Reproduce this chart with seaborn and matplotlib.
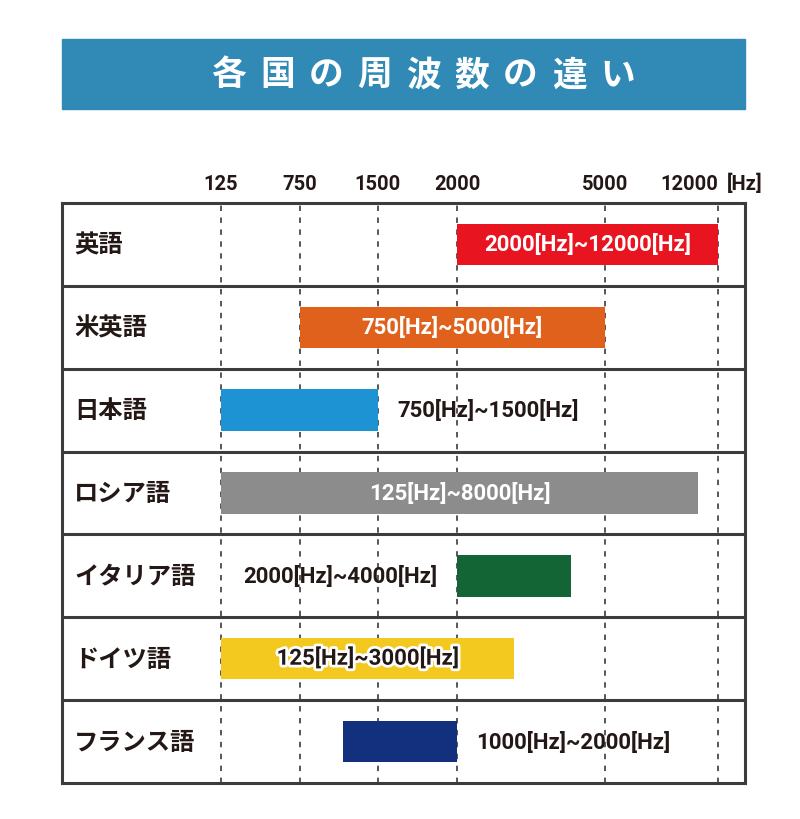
import numpy as np
import pandas as pd
import seaborn as sns
import matplotlib.pyplot as plt
from matplotlib.patches import Rectangle
import matplotlib.patheffects as pe

languages = ['英語', '米英語', '日本語', 'ロシア語', 'イタリア語', 'ドイツ語', 'フランス語']
low_hz = [2000, 750, 125, 125, 2000, 125, 1000]
high_hz = [12000, 5000, 1500, 8000, 4000, 3000, 2000]
range_labels = ['2000[Hz]~12000[Hz]', '750[Hz]~5000[Hz]', '750[Hz]~1500[Hz]',
                '125[Hz]~8000[Hz]', '2000[Hz]~4000[Hz]', '125[Hz]~3000[Hz]',
                '1000[Hz]~2000[Hz]']
tick_hz = [125, 750, 1500, 2000, 5000, 12000]
title = '各国の周波数の違い'

# the drawing uses an uneven, hand made frequency axis: Hz -> position in the box
axis_hz = [0, 125, 750, 1000, 1500, 2000, 3000, 4000, 5000, 8000, 12000, 13000]
axis_pos = [0, 159, 238, 281, 316, 395, 452, 509, 543, 636, 656, 683]

bar_colors = ['#e8141f', '#e0611b', '#1e93d4', '#8c8c8c', '#136535', '#f3c81f', '#13307f']
label_place = ['in', 'in', 'right', 'in', 'left', 'in', 'right']
label_color = ['white', 'white', '#231815', 'white', '#231815', '#231815', '#231815']
ink = '#231815'
frame = '#3c3c3c'

sns.set_style('white')
plt.rcParams['font.family'] = ['Liberation Sans Narrow', 'Roboto', 'Noto Sans CJK JP', 'DejaVu Sans']
jp = ['Noto Sans CJK JP', 'DejaVu Sans']


def fwd(x):
    return np.interp(x, axis_hz, axis_pos)


def inv(x):
    return np.interp(x, axis_pos, axis_hz)


fig = plt.figure(figsize=(8, 8.2), dpi=100)

# title banner
fig.add_artist(Rectangle((62/800, 1-110/820), 683/800, 70/820,
                         transform=fig.transFigure, color='#3189b5', zorder=0))
for i, ch in enumerate(title):
    fig.text((229 + i*48.6)/800, 1-75/820, ch, color='white', fontsize=25,
             family=jp, weight='bold', ha='center', va='center')

ax = fig.add_axes([62/800, 1-784/820, 683/800, 580/820])
df = pd.DataFrame({'lang': languages, 'high': high_hz})
sns.barplot(data=df, x='high', y='lang', hue='lang', palette=bar_colors, saturation=1,
            orient='h', width=0.5, legend=False, ax=ax, zorder=3)
ax.set_xscale('function', functions=(fwd, inv))
ax.set_xlim(0, 13000)
ax.set_ylim(6.5, -0.5)

for patch, lo, hi in zip(ax.patches, low_hz, high_hz):
    patch.set_x(lo)
    patch.set_width(hi - lo)
    patch.set_linewidth(0)

for t in tick_hz:
    ax.axvline(t, color='#4a4a4a', lw=1.3, ls=(0, (3, 3.6)), zorder=1)
for y in np.arange(0.5, 6.5):
    ax.axhline(y, color=frame, lw=2.2, zorder=2)

for s in ax.spines.values():
    s.set_visible(True)
    s.set_color(frame)
    s.set_linewidth(2.2)

ax.set_xlabel('')
ax.set_ylabel('')
ax.set_yticks([])
ax.xaxis.tick_top()
ax.set_xticks(tick_hz, labels=[str(t) for t in tick_hz])
ax.tick_params(axis='x', length=0, pad=7, labelsize=14.5, labelcolor=ink)
for lab in ax.get_xticklabels():
    lab.set_fontweight('bold')
ax.get_xticklabels()[-1].set_ha('right')
ax.text(1.0, 1 + 10/580, '[Hz]', transform=ax.transAxes, ha='center', va='bottom',
        fontsize=14.5, weight='bold', color=ink)

for i, lang in enumerate(languages):
    ax.text(12/683, i, lang, transform=ax.get_yaxis_transform(), ha='left', va='center',
            fontsize=17.5, weight='bold', family=jp, color=ink)

for i, (lo, hi, txt) in enumerate(zip(low_hz, high_hz, range_labels)):
    place = label_place[i]
    effects = []
    if place == 'in' and label_color[i] != 'white':
        effects = [pe.withStroke(linewidth=4, foreground='white')]
    if place == 'in':
        mid = inv((fwd(lo) + fwd(hi)) / 2)
        ax.annotate(txt, (mid, i), ha='center', va='center', fontsize=16, weight='bold',
                    color=label_color[i], path_effects=effects, zorder=4)
    elif place == 'right':
        ax.annotate(txt, (hi, i), xytext=(14, 0), textcoords='offset points',
                    ha='left', va='center', fontsize=16, weight='bold',
                    color=label_color[i], zorder=4)
    else:
        ax.annotate(txt, (lo, i), xytext=(-14, 0), textcoords='offset points',
                    ha='right', va='center', fontsize=16, weight='bold',
                    color=label_color[i], zorder=4)

fig.savefig('out.png', dpi=100)
